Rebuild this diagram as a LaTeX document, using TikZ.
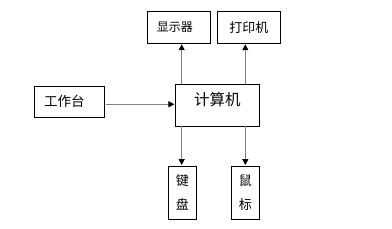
\documentclass[tikz,border=0pt]{standalone}
\usepackage{fontspec}
\setmainfont{Noto Sans CJK SC}
\usetikzlibrary{arrows.meta,positioning}

\begin{document}
\begin{tikzpicture}[x=1pt, y=-1pt,
  >={Triangle[length=6pt,width=6pt,color=black]},
  blk/.style={draw, line width=0.9pt, inner sep=0pt, font=\fontsize{12}{14}\selectfont},
  arr/.style={->, draw=gray, line width=1.2pt, shorten >=0.5pt},
]
  \useasboundingbox (0,0) rectangle (392,229);
  % output devices
  \node[blk, minimum width=63pt, minimum height=32pt] (disp) at (178.8,27.3) {\hspace*{-8pt}显示器};
  \node[blk, minimum width=63pt, minimum height=32pt, font=\fontsize{13}{15}\selectfont] (prn) at (248.8,27.3) {打印机};
  % input side
  \node[blk, minimum width=70pt, minimum height=31pt, font=\fontsize{13.5}{15}\selectfont] (desk) at (69.3,101.8) {\hspace*{-10pt}工作台};
  \node[blk, minimum width=84pt, minimum height=42pt] (cpu) at (217.3,105.3) {};
  \node[font=\fontsize{15.5}{17}\selectfont, below=5pt of cpu.north] (cpul) {计算机};
  % input devices
  \node[blk, minimum width=28pt, minimum height=53pt, align=center, font=\fontsize{13}{24}\selectfont] (kbd) at (182.3,192.5) {键\\盘};
  \node[blk, minimum width=28pt, minimum height=53pt, align=center, font=\fontsize{13}{24}\selectfont] (mouse) at (245.3,192.5) {鼠\\标};
  % connectors
  \coordinate (d1) at (181.7,84.3);
  \coordinate (d2) at (245.3,84.3);
  \coordinate (k1) at (181.7,126.3);
  \coordinate (k2) at (245.3,126.3);
  \draw[arr] (d1) -- (d1 |- disp.south);
  \draw[arr] (d2) -- (d2 |- prn.south);
  \draw[arr] (k1) -- (k1 |- kbd.north);
  \draw[arr] (k2) -- (k2 |- mouse.north);
  \draw[arr, shorten <=1.5pt] (desk.east |- 0,104.3) -- (cpu.west |- 0,104.3);
\end{tikzpicture}
\end{document}
